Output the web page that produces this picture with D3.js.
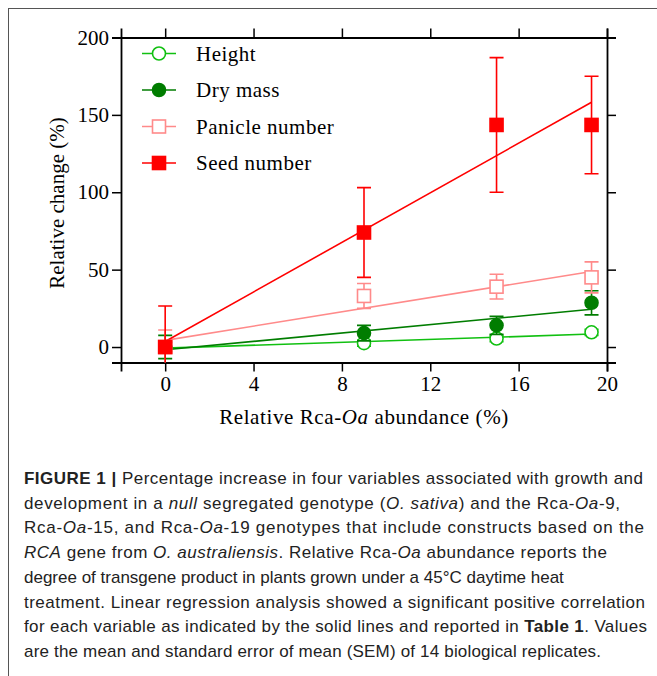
<!DOCTYPE html>
<html>
<head>
<meta charset="utf-8">
<script src="https://cdn.jsdelivr.net/npm/d3@7"></script>
<style>
  body { margin: 0; background: #fff; }
  svg { display: block; }
</style>
</head>
<body>
<div id="chart"></div>
<script>
// values
var abundance = [0, 9, 15, 19.3];
var seriesNames = ["Height", "Dry mass", "Panicle number", "Seed number"];
var heightMean = [0, 2.5, 5.5, 9.5];
var heightSem = [3, 2, 2, 2];
var dryMean = [0, 9, 14, 28.6];
var drySem = [7.5, 5, 5.8, 7.8];
var panicleMean = [0, 33, 39, 45];
var panicleSem = [11, 8, 8, 10];
var seedMean = [0, 74, 143.5, 143.5];
var seedSem = [26.5, 29, 43.5, 31.5];
var xTicks = [0, 4, 8, 12, 16, 20];
var yTicks = [0, 50, 100, 150, 200];

var svgWidth = 657;
var svgHeight = 676;

var svg = d3.select("#chart")
  .append("svg")
  .attr("width", svgWidth)
  .attr("height", svgHeight);

// outer frame of the figure (open on the right/bottom like the crop)
svg.append("rect")
  .attr("x", 8.5).attr("y", 8.5)
  .attr("width", 700).attr("height", 700)
  .attr("fill", "none")
  .attr("stroke", "#555")
  .attr("stroke-width", 1);

var plot = { left: 121, right: 607, top: 37.5, bottom: 362.5 };

var x = d3.scaleLinear().domain([-2, 20]).range([plot.left, plot.right]);
var y = d3.scaleLinear().domain([-10, 200]).range([plot.bottom, plot.top]);

var series = [
  { name: seriesNames[0], mean: heightMean, sem: heightSem, color: "#11c011", shape: "circle", fill: "#fff" },
  { name: seriesNames[1], mean: dryMean, sem: drySem, color: "#007d00", shape: "circle", fill: "#007d00" },
  { name: seriesNames[2], mean: panicleMean, sem: panicleSem, color: "#ff8a8a", shape: "square", fill: "#fff" },
  { name: seriesNames[3], mean: seedMean, sem: seedSem, color: "#ff0000", shape: "square", fill: "#ff0000" }
];

// least squares fit for the solid regression lines
function fit(xs, ys) {
  var mx = d3.mean(xs), my = d3.mean(ys);
  var sxy = d3.sum(xs, (v, i) => (v - mx) * (ys[i] - my));
  var sxx = d3.sum(xs, v => (v - mx) * (v - mx));
  var b = sxy / sxx;
  return { a: my - b * mx, b: b };
}

var serif = "'Liberation Serif', 'DejaVu Serif', serif";

// axes
var axisFont = function(g) {
  g.selectAll("text").attr("font-family", serif).attr("font-size", 21).attr("fill", "#000");
  g.selectAll("line").attr("stroke", "#000").attr("stroke-width", 1.5);
  g.select(".domain").attr("stroke", "#000").attr("stroke-width", 1.8);
};

svg.append("g")
  .attr("transform", `translate(0, ${plot.bottom})`)
  .call(d3.axisBottom(x).tickValues(xTicks).tickSizeOuter(0).tickSize(9).tickPadding(5))
  .call(axisFont);

svg.append("g")
  .attr("transform", `translate(0, ${plot.top})`)
  .call(d3.axisTop(x).tickValues(xTicks).tickSizeOuter(0).tickSize(9).tickFormat(""))
  .call(axisFont);

svg.append("g")
  .attr("transform", `translate(${plot.left}, 0)`)
  .call(d3.axisLeft(y).tickValues(yTicks).tickSizeOuter(0).tickSize(9).tickPadding(3))
  .call(axisFont);

svg.append("g")
  .attr("transform", `translate(${plot.right}, 0)`)
  .call(d3.axisRight(y).tickValues(yTicks).tickSizeOuter(0).tickSize(9).tickFormat(""))
  .call(axisFont);

// axis titles
svg.append("text")
  .attr("transform", "translate(64, 203) rotate(-90)")
  .attr("text-anchor", "middle")
  .attr("font-family", serif)
  .attr("font-size", 21)
  .text("Relative change (%)");

var xTitle = svg.append("text")
  .attr("x", 364).attr("y", 424)
  .attr("text-anchor", "middle")
  .attr("font-family", serif)
  .attr("font-size", 21)
  .attr("letter-spacing", 0.6);
xTitle.append("tspan").text("Relative Rca-");
xTitle.append("tspan").attr("font-style", "italic").text("Oa");
xTitle.append("tspan").text(" abundance (%)");

// plot content clipped to the axes box
svg.append("clipPath").attr("id", "plotclip")
  .append("rect")
  .attr("x", plot.left).attr("y", plot.top)
  .attr("width", plot.right - plot.left).attr("height", plot.bottom - plot.top);

var content = svg.append("g").attr("clip-path", "url(#plotclip)");

function drawMarker(g, shape, color, fill, cx, cy) {
  if (shape === "circle") {
    g.append("circle")
      .attr("cx", cx).attr("cy", cy).attr("r", 6.5)
      .attr("fill", fill).attr("stroke", color).attr("stroke-width", 1.6);
  } else {
    g.append("rect")
      .attr("x", cx - 6.5).attr("y", cy - 6.5)
      .attr("width", 13).attr("height", 13)
      .attr("fill", fill).attr("stroke", color).attr("stroke-width", 1.6);
  }
}

series.forEach(function(s) {
  var f = fit(abundance, s.mean);
  var x0 = abundance[0], x1 = abundance[abundance.length - 1];
  content.append("line")
    .attr("x1", x(x0)).attr("y1", y(f.a + f.b * x0))
    .attr("x2", x(x1)).attr("y2", y(f.a + f.b * x1))
    .attr("stroke", s.color).attr("stroke-width", 1.6);
});

series.forEach(function(s) {
  var g = content.append("g");
  abundance.forEach(function(a, i) {
    var cx = x(a);
    var top = y(s.mean[i] + s.sem[i]);
    var bot = y(s.mean[i] - s.sem[i]);
    g.append("line")
      .attr("x1", cx).attr("x2", cx).attr("y1", top).attr("y2", bot)
      .attr("stroke", s.color).attr("stroke-width", 1.6);
    [top, bot].forEach(function(yy) {
      g.append("line")
        .attr("x1", cx - 7).attr("x2", cx + 7).attr("y1", yy).attr("y2", yy)
        .attr("stroke", s.color).attr("stroke-width", 1.6);
    });
  });
  abundance.forEach(function(a, i) {
    drawMarker(g, s.shape, s.color, s.fill, x(a), y(s.mean[i]));
  });
});

// legend
var legend = svg.append("g");
series.forEach(function(s, i) {
  var ly = 53.5 + i * 36.5;
  legend.append("line")
    .attr("x1", 142).attr("x2", 176).attr("y1", ly).attr("y2", ly)
    .attr("stroke", s.color).attr("stroke-width", 1.6);
  drawMarker(legend, s.shape, s.color, s.fill, 159, ly);
  legend.append("text")
    .attr("x", 196).attr("y", ly + 7)
    .attr("font-family", serif)
    .attr("font-size", 21)
    .attr("letter-spacing", 0.5)
    .text(s.name);
});

// caption
var captionLines = [
  [["FIGURE 1 | ", "b"], ["Percentage increase in four variables associated with growth and", ""]],
  [["development in a ", ""], ["null", "i"], [" segregated genotype (", ""], ["O. sativa", "i"], [") and the Rca-", ""], ["Oa", "i"], ["-9,", ""]],
  [["Rca-", ""], ["Oa", "i"], ["-15, and Rca-", ""], ["Oa", "i"], ["-19 genotypes that include constructs based on the", ""]],
  [["RCA", "i"], [" gene from ", ""], ["O. australiensis", "i"], [". Relative Rca-", ""], ["Oa", "i"], [" abundance reports the", ""]],
  [["degree of transgene product in plants grown under a 45°C daytime heat", ""]],
  [["treatment. Linear regression analysis showed a significant positive correlation", ""]],
  [["for each variable as indicated by the solid lines and reported in ", ""], ["Table 1", "b"], [". Values", ""]],
  [["are the mean and standard error of mean (SEM) of 14 biological replicates.", ""]]
];
var captionWidths = [619, 596, 620, 583, null, 621, 623, 577];

captionLines.forEach(function(line, i) {
  var t = svg.append("text")
    .attr("x", 24)
    .attr("y", 484 + i * 24.7)
    .attr("font-family", "'Liberation Sans', Arial, sans-serif")
    .attr("font-size", 17)
    .attr("fill", "#222");
  if (captionWidths[i]) {
    t.attr("textLength", captionWidths[i]).attr("lengthAdjust", "spacing");
  }
  line.forEach(function(seg) {
    var sp = t.append("tspan").text(seg[0]);
    if (seg[1] === "b") sp.attr("font-weight", "bold");
    if (seg[1] === "i") sp.attr("font-style", "italic");
  });
});
</script>
</body>
</html>
